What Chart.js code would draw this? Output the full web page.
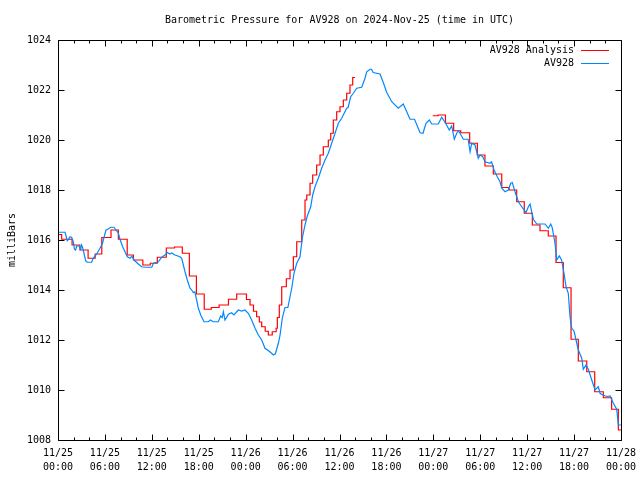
<!DOCTYPE html>
<html>
<head>
<meta charset="utf-8">
<title>Barometric Pressure for AV928</title>
<script src="https://cdn.jsdelivr.net/npm/chart.js@4.4.1/dist/chart.umd.min.js"></script>
<style>
  html, body { margin: 0; padding: 0; background: #fff; }
  #wrap { width: 640px; height: 480px; }
</style>
</head>
<body>
<div id="wrap"><canvas id="pressure-chart" width="640" height="480"></canvas></div>
<script>
// hours since 2024-11-25 00:00 UTC
const analysisHours = [
  0, 0.47, 1.8, 2.8, 3.85, 4.75, 5.6, 6.78, 7.72, 8.85,
  9.65, 10.85, 11.8, 12.7, 13.85, 14.9, 15.9, 16.8, 17.7, 18.7,
  19.6, 20.6, 21.8, 22.85, 23.7, 24.1, 24.56, 25.0, 25.4, 25.75,
  26.05, 26.5, 26.9, 27.4, 27.9, 28.05, 28.3, 28.61, 29.2, 29.67,
  30.1, 30.53, 31.17, 31.59, 31.81, 32.23, 32.57, 33.08, 33.51, 33.93,
  34.57, 34.88, 35.21, 35.64, 36.06, 36.49, 36.92, 37.34, 37.69, 37.98,
  42, 47.92, 48.6, 49.55, 50.6, 51.5, 52.65, 53.63, 54.6, 55.67,
  56.75, 57.68, 58.66, 59.63, 60.66, 61.64, 62.7, 63.69, 64.62, 65.61,
  66.54, 67.62, 68.64, 69.74, 70.8, 71.66, 72,
];
const analysisValues = [
  1016.22, 1016.03, 1015.8, 1015.6, 1015.27, 1015.44, 1016.1, 1016.4, 1016.03, 1015.4,
  1015.2, 1015.0, 1015.07, 1015.31, 1015.68, 1015.72, 1015.47, 1014.56, 1013.84, 1013.23,
  1013.3, 1013.4, 1013.63, 1013.84, 1013.84, 1013.62, 1013.4, 1013.15, 1012.93, 1012.72,
  1012.53, 1012.35, 1012.2, 1012.33, 1012.47, 1012.9, 1013.4, 1014.13, 1014.45, 1014.8,
  1015.33, 1015.93, 1016.8, 1017.6, 1017.8, 1018.27, 1018.6, 1019.0, 1019.4, 1019.73,
  1020.0, 1020.27, 1020.8, 1021.13, 1021.33, 1021.6, 1021.87, 1022.2, 1022.5, 1022.5,
  null, 1020.97, 1021.0, 1020.67, 1020.37, 1020.29, 1019.87, 1019.4, 1018.96, 1018.64,
  1018.1, 1018.0, 1017.53, 1017.07, 1016.6, 1016.37, 1016.16, 1015.1, 1014.09, 1012.03,
  1011.16, 1010.73, 1009.93, 1009.69, 1009.23, 1008.4, 1008.4,
];

const sensorHours = [
  0, 0.9, 1.05, 1.19, 1.4, 1.53, 1.75, 1.96, 2.1, 2.25,
  2.39, 2.7, 2.9, 3.0, 3.15, 3.3, 3.54, 3.75, 4.3, 4.5,
  4.95, 5.37, 5.7, 5.88, 6.14, 6.43, 6.74, 7.16, 7.42, 7.72,
  7.93, 8.27, 8.57, 8.87, 9.2, 9.45, 9.72, 10.27, 10.7, 11.13,
  12.0, 12.2, 12.83, 13.26, 13.68, 13.98, 14.3, 14.54, 14.96, 15.6,
  15.82, 16.03, 16.24, 16.54, 16.88, 17.1, 17.3, 17.5, 17.73, 17.95,
  18.25, 18.67, 19.22, 19.5, 19.86, 20.5, 20.8, 21.0, 21.15, 21.36,
  21.8, 22.2, 22.5, 23.06, 23.5, 23.9, 24.34, 24.77, 25.2, 25.62,
  26.05, 26.47, 27.1, 27.54, 27.8, 28.18, 28.4, 28.7, 29.03, 29.4,
  29.67, 29.89, 30.18, 30.53, 30.95, 31.24, 31.59, 31.88, 32.32, 32.57,
  32.87, 33.29, 33.72, 34.15, 34.57, 35.0, 35.43, 35.85, 36.28, 36.92,
  37.1, 37.43, 37.77, 38.2, 38.84, 39.26, 39.48, 39.9, 40.1, 40.3,
  41.18, 41.6, 42.04, 42.68, 43.52, 44.16, 44.6, 45.02, 45.6, 46.3,
  46.68, 47.06, 47.49, 47.79, 48.64, 49.07, 49.3, 49.62, 50.04, 50.35,
  50.68, 50.99, 51.2, 51.41, 51.84, 52.45, 52.7, 52.91, 53.33, 53.75,
  53.97, 54.32, 54.61, 55.25, 55.45, 55.76, 56.18, 56.53, 56.75, 57.17,
  57.59, 57.9, 58.1, 58.45, 58.87, 59.6, 59.85, 60.15, 60.37, 60.79,
  61.22, 62.28, 62.71, 63.01, 63.2, 63.56, 63.78, 64.11, 64.4, 64.71,
  64.97, 65.26, 65.48, 65.7, 66.0, 66.25, 66.54, 66.98, 67.18, 67.53,
  67.82, 68.26, 68.68, 69.1, 69.32, 69.66, 70.2, 70.6, 71.02, 71.45,
  71.66, 72,
];
const sensorValues = [
  1016.31, 1016.31, 1016.13, 1015.97, 1016.05, 1016.13, 1016.1, 1015.93, 1015.63, 1015.6,
  1015.76, 1015.76, 1015.63, 1015.8, 1015.7, 1015.5, 1015.16, 1015.11, 1015.11, 1015.27,
  1015.44, 1015.67, 1015.87, 1016.1, 1016.4, 1016.44, 1016.51, 1016.51, 1016.4, 1016.27,
  1016.03, 1015.73, 1015.53, 1015.33, 1015.27, 1015.35, 1015.2, 1015.04, 1014.93, 1014.91,
  1014.91, 1015.07, 1015.13, 1015.31, 1015.4, 1015.5, 1015.44, 1015.48, 1015.4, 1015.33,
  1015.27, 1015.0, 1014.73, 1014.4, 1014.07, 1014.0, 1013.9, 1013.93, 1013.6, 1013.27,
  1013.0, 1012.73, 1012.73, 1012.8, 1012.73, 1012.73, 1012.96, 1012.9, 1013.13, 1012.8,
  1013.03, 1013.09, 1013.0, 1013.2, 1013.16, 1013.2, 1013.07, 1012.8, 1012.47, 1012.2,
  1012.0, 1011.67, 1011.53, 1011.4, 1011.45, 1011.87, 1012.2, 1012.9, 1013.3, 1013.3,
  1013.73, 1014.07, 1014.67, 1015.07, 1015.33, 1016.07, 1016.6, 1016.96, 1017.33, 1017.8,
  1018.13, 1018.47, 1018.87, 1019.2, 1019.47, 1019.87, 1020.27, 1020.67, 1020.87, 1021.27,
  1021.3, 1021.73, 1021.87, 1022.07, 1022.11, 1022.47, 1022.73, 1022.83, 1022.83, 1022.7,
  1022.64, 1022.3, 1021.9, 1021.53, 1021.27, 1021.44, 1021.13, 1020.83, 1020.83, 1020.29,
  1020.27, 1020.67, 1020.8, 1020.64, 1020.64, 1020.91, 1020.8, 1020.64, 1020.4, 1020.56,
  1020.03, 1020.27, 1020.37, 1020.27, 1020.03, 1020.03, 1019.53, 1019.87, 1019.8, 1019.27,
  1019.4, 1019.33, 1019.13, 1019.07, 1019.13, 1018.8, 1018.53, 1018.33, 1018.07, 1017.93,
  1018.0, 1018.27, 1018.3, 1017.93, 1017.53, 1017.2, 1017.1, 1017.33, 1017.44, 1016.83,
  1016.64, 1016.64, 1016.47, 1016.64, 1016.5, 1015.87, 1015.2, 1015.36, 1015.2, 1014.67,
  1014.13, 1013.87, 1012.93, 1012.47, 1012.35, 1012.0, 1011.6, 1011.27, 1010.83, 1011.0,
  1010.83, 1010.4, 1010.0, 1010.13, 1009.87, 1009.8, 1009.74, 1009.76, 1009.47, 1009.23,
  1008.6, 1008.6,
];

const xTickHours = [0, 6, 12, 18, 24, 30, 36, 42, 48, 54, 60, 66, 72];
const yTickValues = [1008, 1010, 1012, 1014, 1016, 1018, 1020, 1022, 1024];

const titleText = 'Barometric Pressure for AV928 on 2024-Nov-25 (time in UTC)';

const colors = {
  analysis: '#ff0000',
  sensor: '#0088ff',
};

const fontFamily = '"DejaVu Sans Mono", "Liberation Mono", monospace';

function formatHour(value) {
  const day = 25 + Math.floor(value / 24);
  const hour = value % 24;
  return [`11/${day}`, `${String(hour).padStart(2, '0')}:00`];
}

function toPoints(hours, values) {
  return hours.map((h, i) => ({ x: h, y: values[i] }));
}

// gnuplot-style border with inward tics on all four sides
const framePlugin = {
  id: 'frame',
  afterDraw(chart) {
    const { ctx, chartArea: area, scales: { x, y } } = chart;
    const left = Math.round(area.left) + 0.5;
    const right = Math.round(area.right) + 0.5;
    const top = Math.round(area.top) + 0.5;
    const bottom = Math.round(area.bottom) + 0.5;
    ctx.save();
    ctx.strokeStyle = '#000';
    ctx.lineWidth = 1;
    ctx.beginPath();
    ctx.rect(left, top, right - left, bottom - top);
    for (let h = 0; h <= 72; h += 2) {
      const px = Math.round(x.getPixelForValue(h)) + 0.5;
      const len = xTickHours.includes(h) ? 6 : 3;
      ctx.moveTo(px, bottom);
      ctx.lineTo(px, bottom - len);
      ctx.moveTo(px, top);
      ctx.lineTo(px, top + len);
    }
    yTickValues.forEach((v) => {
      const py = Math.round(y.getPixelForValue(v)) + 0.5;
      ctx.moveTo(left, py);
      ctx.lineTo(left + 6, py);
      ctx.moveTo(right, py);
      ctx.lineTo(right - 6, py);
    });
    ctx.stroke();

    // title centred over the plot area, like gnuplot does
    ctx.fillStyle = '#000';
    ctx.font = `10px ${fontFamily}`;
    ctx.textAlign = 'center';
    ctx.textBaseline = 'middle';
    ctx.fillText(titleText, (area.left + area.right) / 2, 20);
    ctx.restore();
  },
};

// key in the top right corner: text first, line sample after it
const keyPlugin = {
  id: 'key',
  afterDraw(chart) {
    const { ctx, chartArea: area } = chart;
    ctx.save();
    ctx.font = `10px ${fontFamily}`;
    ctx.textAlign = 'right';
    ctx.textBaseline = 'middle';
    chart.data.datasets.forEach((ds, i) => {
      const yPos = Math.round(area.top + 10 + i * 13) + 0.5;
      ctx.fillStyle = '#000';
      ctx.fillText(ds.label, area.right - 47, yPos);
      ctx.strokeStyle = ds.borderColor;
      ctx.lineWidth = 1;
      ctx.beginPath();
      ctx.moveTo(area.right - 40, yPos);
      ctx.lineTo(area.right - 12, yPos);
      ctx.stroke();
    });
    ctx.restore();
  },
};

Chart.defaults.font.family = fontFamily;
Chart.defaults.font.size = 10;
Chart.defaults.color = '#000';

new Chart(document.querySelector('#pressure-chart'), {
  type: 'line',
  data: {
    datasets: [
      {
        label: 'AV928 Analysis',
        data: toPoints(analysisHours, analysisValues),
        borderColor: colors.analysis,
        borderWidth: 1.2,
        stepped: true,
        pointRadius: 0,
        spanGaps: false,
        order: 1,
      },
      {
        label: 'AV928',
        data: toPoints(sensorHours, sensorValues),
        borderColor: colors.sensor,
        borderWidth: 1.2,
        tension: 0,
        pointRadius: 0,
        order: 0,
      },
    ],
  },
  options: {
    responsive: false,
    animation: false,
    devicePixelRatio: 1,
    layout: { padding: { top: 40, right: 19, bottom: 0, left: 0 } },
    plugins: {
      legend: { display: false },
      tooltip: { enabled: false },
      title: { display: false },
    },
    scales: {
      x: {
        type: 'linear',
        min: 0,
        max: 72,
        afterBuildTicks: (scale) => {
          scale.ticks = xTickHours.map((value) => ({ value }));
        },
        afterFit: (scale) => {
          scale.height = 40;
          scale.paddingLeft = 0;
          scale.paddingRight = 0;
        },
        grid: { display: false, drawTicks: false },
        border: { display: false },
        ticks: {
          autoSkip: false,
          maxRotation: 0,
          padding: 6,
          font: { size: 10, lineHeight: 1.4 },
          callback: (value) => formatHour(value),
        },
      },
      y: {
        min: 1008,
        max: 1024,
        afterBuildTicks: (scale) => {
          scale.ticks = yTickValues.map((value) => ({ value }));
        },
        afterFit: (scale) => {
          scale.width = 58;
          scale.paddingTop = 0;
          scale.paddingBottom = 0;
        },
        grid: { display: false, drawTicks: false },
        border: { display: false },
        ticks: {
          padding: 7,
          callback: (value) => String(value),
        },
        title: {
          display: true,
          text: 'milliBars',
          font: { size: 10 },
          padding: { top: 6, bottom: 0 },
        },
      },
    },
  },
  plugins: [framePlugin, keyPlugin],
});
</script>
</body>
</html>
